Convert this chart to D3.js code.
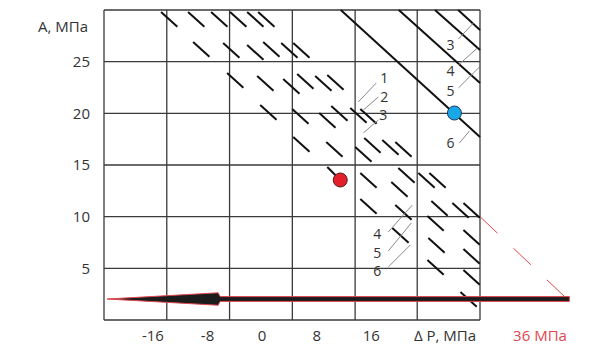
<!DOCTYPE html>
<html>
<head>
<meta charset="utf-8">
<script src="https://cdn.jsdelivr.net/npm/d3@7"></script>
<style>
    body { margin: 0; background: #fff; }
    text { font-family: "Open Sans", sans-serif; }
</style>
</head>
<body>
<svg id="chart" width="600" height="353"></svg>
<script>

// tick labels
var xTicks = [-16, -8, 0, 8, 16]
var yTicks = [5, 10, 15, 20, 25]

// grid lines (first and last are the frame)
var xGrid = [-23.1, -13.9, -4.7, 4.5, 13.7, 22.8, 32]
var yGrid = [0, 5, 10, 15, 20, 25, 30]

// short strokes: start point [ΔP, A]
var dashes = [
    [-14.74, 29.81], [-10.78, 29.81], [-7.40, 29.81], [-4.62, 29.81], [-2.12, 29.81], [-0.51, 29.81],
    [-10.04, 26.90], [-5.64, 26.81], [-2.12, 26.61], [0.23, 26.90], [2.87, 26.81], [4.63, 26.81],
    [-5.06, 23.90], [-0.65, 23.61], [3.16, 23.32], [5.21, 23.81], [7.85, 23.61], [9.62, 23.71],
    [-0.21, 20.81], [4.48, 20.42], [8.44, 20.03], [10.20, 20.71], [12.99, 20.52], [14.46, 20.42],
    [4.63, 17.71], [9.47, 17.23], [13.72, 16.74], [15.04, 17.61], [17.68, 17.42], [19.59, 17.23],
    [14.46, 14.23], [20.03, 14.71], [19.00, 13.36], [22.97, 14.23], [24.58, 14.23],
    [14.46, 11.71], [19.59, 11.13], [24.87, 11.52], [27.95, 11.32], [29.57, 11.32],
    [24.29, 10.06], [29.57, 8.71], [19.15, 8.90], [24.43, 7.94], [29.57, 6.87],
    [24.29, 5.81], [29.57, 4.84], [29.13, 2.71]
]
var dashVec = [2.39, -1.43]

// long lines: [ΔP1, A1, ΔP2, A2]
var longLines = [
    [11.6, 30, 32, 17.71],
    [20.1, 30, 32, 22.94],
    [25.4, 30, 32, 26.13],
    [28.8, 30, 32, 28.07]
]

// the two marked points [ΔP, A]
var redPoint = [11.52, 13.55]
var redStub = [9.62, 14.81]
var bluePoint = [28.25, 20.03]

// curve numbers with leader lines
var curveLabels = [
    {t: "3", p: 27.66, a: 26.61, l: [28.83, 27.19, 31.03, 28.74]},
    {t: "4", p: 27.66, a: 24.10, l: [28.83, 24.68, 31.62, 26.32]},
    {t: "5", p: 27.66, a: 22.16, l: [28.83, 22.45, 31.91, 24.48]},
    {t: "6", p: 27.66, a: 17.13, l: [28.98, 17.13, 30.45, 18.29]},
    {t: "1", p: 17.98, a: 23.42, l: [14.16, 21.10, 16.80, 22.94]},
    {t: "2", p: 17.98, a: 21.58, l: [14.90, 20.32, 17.10, 21.58]},
    {t: "3", p: 17.83, a: 19.84, l: [14.90, 18.10, 17.10, 19.36]},
    {t: "4", p: 16.95, a: 8.32, l: [18.56, 8.52, 22.08, 11.13]},
    {t: "5", p: 16.95, a: 6.45, l: [18.56, 6.68, 21.94, 9.39]},
    {t: "6", p: 16.95, a: 4.70, l: [18.56, 5.13, 21.79, 7.26]}
]

// big arrow along A = 2 and the red dashed tail
var arrowA = 2.03
var arrowTip = -22.66
var arrowNeck = -6.38
var arrowEnd = 45.1
var tail = [32, 10, 44.5, 2.2]

var dimensions = {
    width: 600,
    height: 353,
    margin: {top: 10, bottom: 33, left: 104, right: 120}
}

var svg = d3.select("#chart")

var xScale = d3.scaleLinear()
    .domain([-23.1, 32])
    .range([dimensions.margin.left, dimensions.width - dimensions.margin.right])

var yScale = d3.scaleLinear()
    .domain([0, 30])
    .range([dimensions.height - dimensions.margin.bottom, dimensions.margin.top])

var textColor = "#333"

//grid
svg.append("g").selectAll("line")
    .data(xGrid)
    .enter().append("line")
    .attr("x1", d => xScale(d)).attr("x2", d => xScale(d))
    .attr("y1", yScale(0)).attr("y2", yScale(30))
    .attr("stroke", "#3a3a3a").attr("stroke-width", 1.3)

svg.append("g").selectAll("line")
    .data(yGrid)
    .enter().append("line")
    .attr("x1", xScale(-23.1)).attr("x2", xScale(32))
    .attr("y1", d => yScale(d)).attr("y2", d => yScale(d))
    .attr("stroke", "#3a3a3a").attr("stroke-width", 1.3)

//short strokes
svg.append("g").selectAll("line")
    .data(dashes)
    .enter().append("line")
    .attr("x1", d => xScale(d[0])).attr("y1", d => yScale(d[1]))
    .attr("x2", d => xScale(d[0] + dashVec[0])).attr("y2", d => yScale(d[1] + dashVec[1]))
    .attr("stroke", "#111").attr("stroke-width", 2)

svg.append("g").selectAll("line")
    .data(longLines)
    .enter().append("line")
    .attr("x1", d => xScale(d[0])).attr("y1", d => yScale(d[1]))
    .attr("x2", d => xScale(d[2])).attr("y2", d => yScale(d[3]))
    .attr("stroke", "#111").attr("stroke-width", 2)

//leaders and numbers
svg.append("g").selectAll("line")
    .data(curveLabels)
    .enter().append("line")
    .attr("x1", d => xScale(d.l[0])).attr("y1", d => yScale(d.l[1]))
    .attr("x2", d => xScale(d.l[2])).attr("y2", d => yScale(d.l[3]))
    .attr("stroke", "#8a8a8a").attr("stroke-width", 1)

svg.append("g").selectAll("text")
    .data(curveLabels)
    .enter().append("text")
    .attr("x", d => xScale(d.p)).attr("y", d => yScale(d.a))
    .attr("dy", "0.36em")
    .attr("text-anchor", "middle")
    .style("font-size", "14px")
    .attr("fill", textColor)
    .text(d => d.t)

//points
svg.append("line")
    .attr("x1", xScale(redStub[0])).attr("y1", yScale(redStub[1]))
    .attr("x2", xScale(redPoint[0])).attr("y2", yScale(redPoint[1]))
    .attr("stroke", "#111").attr("stroke-width", 2)

svg.append("circle")
    .attr("cx", xScale(redPoint[0])).attr("cy", yScale(redPoint[1]))
    .attr("r", 7)
    .attr("fill", "#e3202a").attr("stroke", "#5a1a1a").attr("stroke-width", 1)

svg.append("circle")
    .attr("cx", xScale(bluePoint[0])).attr("cy", yScale(bluePoint[1]))
    .attr("r", 7)
    .attr("fill", "#18a8e8").attr("stroke", "#1a3a5a").attr("stroke-width", 1)

//red dashed tail
svg.append("line")
    .attr("x1", xScale(tail[0])).attr("y1", yScale(tail[1]))
    .attr("x2", xScale(tail[2])).attr("y2", yScale(tail[3]))
    .attr("stroke", "#e0474f").attr("stroke-width", 1)
    .attr("stroke-dasharray", "24 22")

//arrow
var ay = yScale(arrowA)
var arrowPath = d3.path()
arrowPath.moveTo(xScale(arrowTip), ay)
arrowPath.lineTo(xScale(arrowNeck), ay - 6.2)
arrowPath.lineTo(xScale(arrowNeck) + 2, ay - 2.4)
arrowPath.lineTo(xScale(arrowEnd), ay - 2.4)
arrowPath.lineTo(xScale(arrowEnd), ay + 2.4)
arrowPath.lineTo(xScale(arrowNeck) + 2, ay + 2.4)
arrowPath.lineTo(xScale(arrowNeck), ay + 6.2)
arrowPath.closePath()

svg.append("path")
    .attr("d", arrowPath.toString())
    .attr("fill", "#1c1c1c")
    .attr("stroke", "#e0474f").attr("stroke-width", 1)
    .attr("stroke-linejoin", "miter")

//axes
var xAxis = svg.append("g")
    .attr("transform", "translate(0," + yScale(0) + ")")
    .call(d3.axisBottom(xScale).tickValues(xTicks).tickSize(0).tickPadding(10).tickFormat(d => String(d)))
xAxis.select(".domain").remove()
xAxis.selectAll("text").style("font-size", "15px").attr("fill", textColor)

var yAxis = svg.append("g")
    .attr("transform", "translate(" + xScale(-23.1) + ",0)")
    .call(d3.axisLeft(yScale).tickValues(yTicks).tickSize(0).tickPadding(14))
yAxis.select(".domain").remove()
yAxis.selectAll("text").style("font-size", "15px").attr("fill", textColor)

//labels
svg.append("text")
    .attr("x", 88).attr("y", 32)
    .attr("text-anchor", "end")
    .style("font-size", "15px")
    .attr("fill", textColor)
    .text("А, МПа")

svg.append("text")
    .attr("x", 445).attr("y", 341)
    .attr("text-anchor", "middle")
    .style("font-size", "15px")
    .attr("fill", textColor)
    .text("Δ P, МПа")

svg.append("text")
    .attr("x", 540).attr("y", 341)
    .attr("text-anchor", "middle")
    .style("font-size", "15px")
    .attr("fill", "#e0474f")
    .text("36 МПа")

</script>
</body>
</html>
